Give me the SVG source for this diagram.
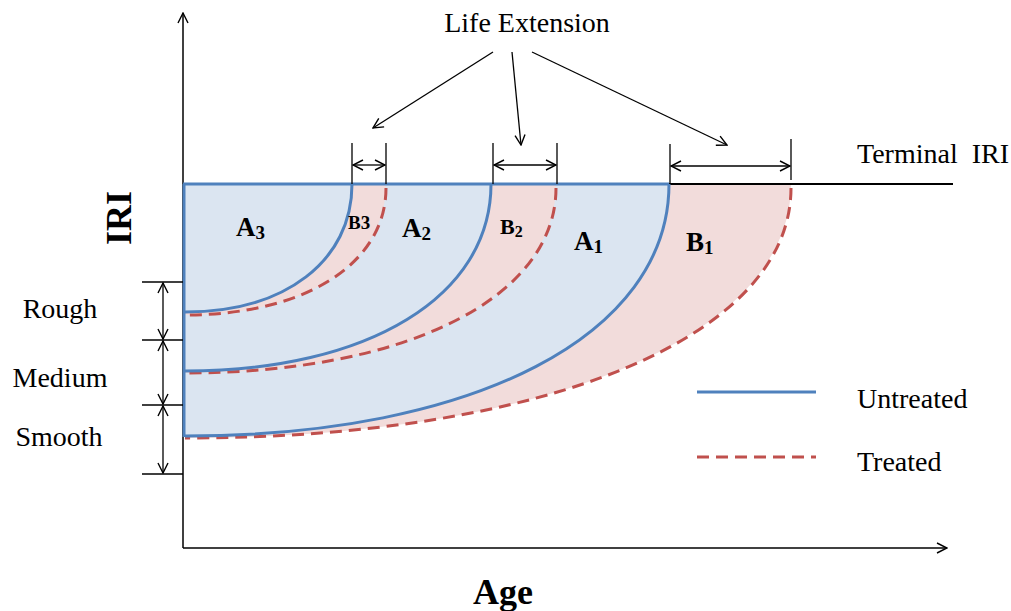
<svg xmlns="http://www.w3.org/2000/svg" width="1011" height="611" viewBox="0 0 1011 611">
<style>
.t{font-family:"Liberation Serif","Times New Roman",serif;fill:#000;font-size:28px}
.lbl{font-family:"Liberation Serif","Times New Roman",serif;font-weight:bold;fill:#000}
.ax{stroke:#000;stroke-width:1.5;fill:none}
.bl{fill:#dbe5f1;stroke:none}
.pk{fill:#f2dcdb;stroke:none}
.u{stroke:#4f81bd;stroke-width:3;fill:none}
.tr{stroke:#c0504d;stroke-width:3;fill:none;stroke-dasharray:12 7}
.dim{stroke:#000;stroke-width:1.3;fill:none}
</style>
<defs>
<marker id="ah" viewBox="0 0 12 12" refX="11" refY="6" markerWidth="12" markerHeight="12" markerUnits="userSpaceOnUse" orient="auto-start-reverse">
<path d="M1,1 L11,6 L1,11" fill="none" stroke="#000" stroke-width="1.4"/>
</marker>
</defs>
<g id="regions">
<path class="pk" d="M185,184 L791,184 C791,336 549,438 185,438 Z"/>
<path class="bl" d="M185,184 L669,184 C669,335 475,436 185,436 Z"/>
<path class="pk" d="M185,184 L556,184 C556,297 408,373 185,373 Z"/>
<path class="bl" d="M185,184 L491,184 C491,296 369,371 185,371 Z"/>
<path class="pk" d="M185,184 L386,184 C386,263 306,315 185,315 Z"/>
<path class="bl" d="M185,184 L352,184 C352,261 285,312 185,312 Z"/>
</g>
<g id="axes">
<line class="ax" x1="183" y1="548" x2="183" y2="13" marker-end="url(#ah)"/>
<line class="ax" x1="183" y1="548" x2="947" y2="548" marker-end="url(#ah)"/>
<line x1="669" y1="184" x2="953" y2="184" stroke="#000" stroke-width="2"/>
</g>
<g id="curves">
<path class="tr" d="M791,188 C791,336 549,438 185,438"/>
<path class="tr" d="M556,188 C556,297 408,373 185,373"/>
<path class="tr" d="M386,188 C386,263 306,315 185,315"/>
<path class="u" d="M669,184 C669,335 475,436 185,436"/>
<path class="u" d="M491,184 C491,296 369,371 185,371"/>
<path class="u" d="M352,184 C352,261 285,312 185,312"/>
<line class="u" x1="183" y1="184" x2="669" y2="184"/>
<line class="u" x1="184" y1="184" x2="184" y2="437"/>
</g>
<g id="region-labels">
<text class="lbl" x="236" y="236" font-size="27">A<tspan font-size="19" dy="3">3</tspan></text>
<text class="lbl" x="348" y="229" font-size="19">B3</text>
<text class="lbl" x="402" y="237" font-size="27">A<tspan font-size="19" dy="3">2</tspan></text>
<text class="lbl" x="500" y="234" font-size="22">B<tspan font-size="16" dy="3">2</tspan></text>
<text class="lbl" x="574" y="250" font-size="27">A<tspan font-size="19" dy="3">1</tspan></text>
<text class="lbl" x="686" y="251" font-size="27">B<tspan font-size="19" dy="3">1</tspan></text>
</g>
<g id="roughness-scale">
<line class="dim" x1="142" y1="282" x2="183" y2="282"/>
<line class="dim" x1="142" y1="340" x2="183" y2="340"/>
<line class="dim" x1="142" y1="405" x2="183" y2="405"/>
<line class="dim" x1="142" y1="474" x2="183" y2="474"/>
<line class="dim" x1="163" y1="283" x2="163" y2="339" marker-start="url(#ah)" marker-end="url(#ah)"/>
<line class="dim" x1="163" y1="341" x2="163" y2="404" marker-start="url(#ah)" marker-end="url(#ah)"/>
<line class="dim" x1="163" y1="406" x2="163" y2="473" marker-start="url(#ah)" marker-end="url(#ah)"/>
<text class="t" x="60" y="318" text-anchor="middle">Rough</text>
<text class="t" x="60" y="387" text-anchor="middle">Medium</text>
<text class="t" x="59" y="446" text-anchor="middle">Smooth</text>
</g>
<g id="life-extension">
<text class="t" x="527" y="32" text-anchor="middle">Life Extension</text>
<line class="dim" x1="352" y1="143" x2="352" y2="184"/>
<line class="dim" x1="386" y1="143" x2="386" y2="184"/>
<line class="dim" x1="353" y1="165" x2="385" y2="165" marker-start="url(#ah)" marker-end="url(#ah)"/>
<line class="dim" x1="493" y1="143" x2="493" y2="184"/>
<line class="dim" x1="557" y1="143" x2="557" y2="184"/>
<line class="dim" x1="494" y1="165" x2="556" y2="165" marker-start="url(#ah)" marker-end="url(#ah)"/>
<line class="dim" x1="670" y1="144" x2="670" y2="184"/>
<line class="dim" x1="791" y1="139" x2="791" y2="180"/>
<line class="dim" x1="671" y1="166" x2="790" y2="166" marker-start="url(#ah)" marker-end="url(#ah)"/>
<line class="dim" x1="493" y1="52" x2="373" y2="128" marker-end="url(#ah)"/>
<line class="dim" x1="512" y1="52" x2="521" y2="145" marker-end="url(#ah)"/>
<line class="dim" x1="532" y1="52" x2="727" y2="145" marker-end="url(#ah)"/>
<text class="t" x="857" y="163" style="white-space:pre">Terminal  IRI</text>
</g>
<g id="legend">
<line class="u" x1="697" y1="392" x2="816" y2="392"/>
<text class="t" x="857" y="408">Untreated</text>
<line class="tr" x1="697" y1="457" x2="816" y2="457"/>
<text class="t" x="857" y="471">Treated</text>
</g>
<g id="axis-titles">
<text class="lbl" font-size="36" text-anchor="middle" transform="translate(131,218) rotate(-90)">IRI</text>
<text class="lbl" x="503" y="604" font-size="36" text-anchor="middle">Age</text>
</g>
</svg>
